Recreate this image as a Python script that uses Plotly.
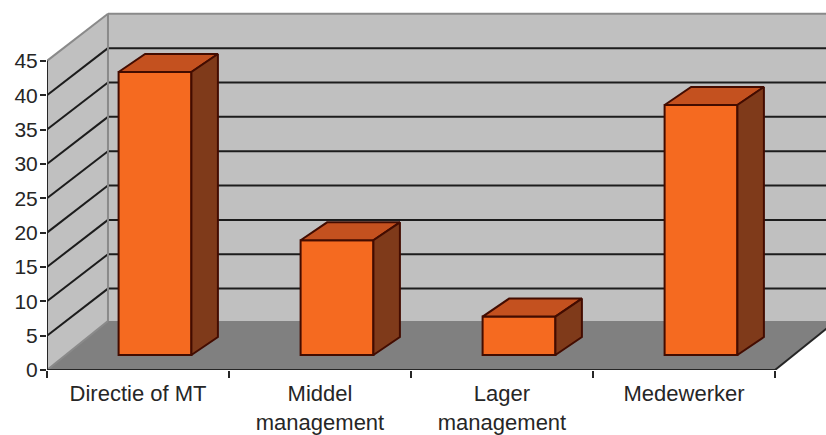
import plotly.graph_objects as go

# Survey shares per function level, drawn as a box-style column chart
categories = ["Directie of MT", "Middel<br>management", "Lager<br>management", "Medewerker"]
values = [41.2, 16.7, 5.6, 36.4]
y_ticks = [0, 5, 10, 15, 20, 25, 30, 35, 40, 45]

# Oblique projection: one unit of wall depth in axis units
WALL_DX = 0.335
WALL_DY = 6.85
FLOOR_DY = 7.13
BAR_SHIFT_X = 0.0934
BAR_SHIFT_Y = 2.18
BAR_DX = 0.1456
BAR_DY = 2.62
BAR_WIDTH = 0.40

X_MAX = 779 / 182
Y_MAX = 370 / 6.87
Y_TOP = y_ticks[-1]
N = len(categories)

WALL = "#c0c0c0"
FLOOR = "#808080"
EDGE = "#8a8a8a"
GRID = "#1c1c1c"
INK = "#262626"
FRONT = "#f56a20"
TOP = "#c4511f"
SIDE = "#7f3a1a"
BAR_EDGE = "#430c00"


def polygon(points, fill, line=None):
    xs = [p[0] for p in points]
    ys = [p[1] for p in points]
    return dict(
        type="path",
        layer="below",
        path="M" + " L".join(f"{x},{y}" for x, y in zip(xs, ys)) + " Z",
        xref="x",
        yref="y",
        fillcolor=fill,
        line=dict(color=line or fill, width=1.5 if line else 0),
    )


def segment(x0, y0, x1, y1, color=GRID, width=2):
    return dict(
        type="line", layer="below", xref="x", yref="y",
        x0=x0, y0=y0, x1=x1, y1=y1,
        line=dict(color=color, width=width),
    )


back_right = N + WALL_DX

shapes = [
    polygon([(WALL_DX, WALL_DY), (back_right, WALL_DY), (back_right, WALL_DY + Y_TOP), (WALL_DX, WALL_DY + Y_TOP)], WALL),
    polygon([(0, 0), (WALL_DX, WALL_DY), (WALL_DX, WALL_DY + Y_TOP), (0, Y_TOP)], WALL),
    polygon([(0, 0), (N, 0), (back_right, FLOOR_DY), (WALL_DX, FLOOR_DY)], FLOOR),
]

# Gridlines fold from the side wall onto the back wall
for t in y_ticks[1:-1]:
    shapes.append(segment(0, t, WALL_DX, t + WALL_DY))
    shapes.append(segment(WALL_DX, t + WALL_DY, back_right, t + WALL_DY))

# Outer edges of the walls
shapes += [
    segment(0, Y_TOP, WALL_DX, Y_TOP + WALL_DY, EDGE),
    segment(WALL_DX, Y_TOP + WALL_DY, back_right, Y_TOP + WALL_DY, EDGE),
    segment(WALL_DX, FLOOR_DY, WALL_DX, Y_TOP + WALL_DY, EDGE),
    segment(0, 0, WALL_DX, FLOOR_DY, EDGE),
    segment(N, 0, back_right, FLOOR_DY, INK),
]

centers = [i + 0.5 + BAR_SHIFT_X for i in range(N)]
tops_x, tops_y, sides_x, sides_y = [], [], [], []
for c, v in zip(centers, values):
    left = c - BAR_WIDTH / 2
    right = c + BAR_WIDTH / 2
    top = v + BAR_SHIFT_Y
    tops_x += [left, right, right + BAR_DX, left + BAR_DX, left, None]
    tops_y += [top, top, top + BAR_DY, top + BAR_DY, top, None]
    sides_x += [right, right + BAR_DX, right + BAR_DX, right, right, None]
    sides_y += [BAR_SHIFT_Y, BAR_SHIFT_Y + BAR_DY, top + BAR_DY, top, BAR_SHIFT_Y, None]

fig = go.Figure()
fig.add_trace(go.Bar(
    x=centers,
    y=values,
    base=BAR_SHIFT_Y,
    width=BAR_WIDTH,
    marker=dict(color=FRONT, line=dict(color=BAR_EDGE, width=2)),
    hoverinfo="skip",
))
fig.add_trace(go.Scatter(
    x=tops_x, y=tops_y, mode="lines", fill="toself", fillcolor=TOP,
    line=dict(color=BAR_EDGE, width=2), hoverinfo="skip",
))
fig.add_trace(go.Scatter(
    x=sides_x, y=sides_y, mode="lines", fill="toself", fillcolor=SIDE,
    line=dict(color=BAR_EDGE, width=2), hoverinfo="skip",
))
# Value and category axis lines stop at the last tick, so they are drawn as traces
fig.add_trace(go.Scatter(
    x=[0, 0, N], y=[Y_TOP, 0, 0], mode="lines", cliponaxis=False,
    line=dict(color=INK, width=2), hoverinfo="skip",
))

fig.update_layout(
    width=826,
    height=435,
    margin=dict(l=47, r=0, t=0, b=65),
    paper_bgcolor="white",
    plot_bgcolor="white",
    showlegend=False,
    shapes=shapes,
    font=dict(family="Liberation Sans, Arial, sans-serif", color=INK),
    xaxis=dict(
        range=[0, X_MAX],
        tickmode="array",
        tickvals=[i + 0.5 for i in range(N)],
        ticktext=categories,
        ticks="",
        ticklabelstandoff=8,
        tickfont=dict(size=22),
        showgrid=False,
        zeroline=False,
        showline=False,
        minor=dict(
            tickmode="array",
            tickvals=list(range(N + 1)),
            ticks="outside",
            ticklen=7,
            tickwidth=2,
            tickcolor=INK,
            showgrid=False,
        ),
    ),
    yaxis=dict(
        range=[0, Y_MAX],
        tickmode="array",
        tickvals=y_ticks,
        ticks="outside",
        ticklen=6,
        tickwidth=2,
        tickcolor=INK,
        ticklabelstandoff=-2,
        tickfont=dict(size=21),
        showgrid=False,
        zeroline=False,
        showline=False,
    ),
)

fig.write_html("out.html", config=dict(displayModeBar=False))
